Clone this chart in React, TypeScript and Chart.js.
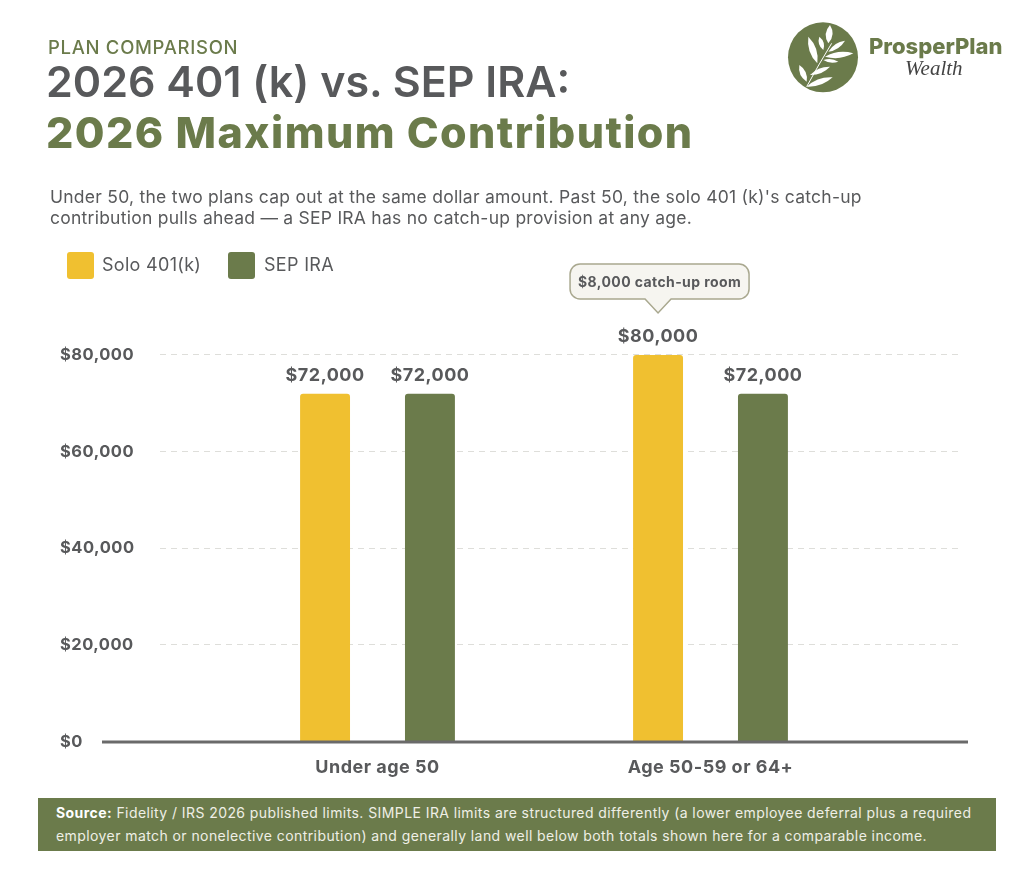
import { useEffect, useRef } from 'react';
import { Chart, registerables } from 'chart.js';

Chart.register(...registerables);

const categories = ['Under age 50', 'Age 50-59 or 64+'];
const solo401k = [72000, 80000];
const sepIra = [72000, 72000];
const yTicks = [0, 20000, 40000, 60000, 80000];
const seriesNames = ['Solo 401(k)', 'SEP IRA'];
const calloutText = '$8,000 catch-up room';

const YELLOW = '#F0C030';
const GREEN = '#6B7B4B';
const GREY = '#58595B';
const FONT = 'Inter, "Open Sans", sans-serif';

const money = (v: number) => '$' + v.toLocaleString('en-US');

// grid lines and baseline run wider than the category band, so they are drawn here
const guides = {
  id: 'guides',
  beforeDraw(chart: any) {
    chart.ctx.letterSpacing = '0.5px';
  },
  beforeDatasetsDraw(chart: any) {
    const { ctx, scales } = chart;
    ctx.save();
    ctx.strokeStyle = '#DEDEDA';
    ctx.lineWidth = 1;
    ctx.setLineDash([6, 5]);
    yTicks.filter((t) => t > 0).forEach((t) => {
      const y = Math.round(scales.y.getPixelForValue(t)) - 0.5;
      ctx.beginPath();
      ctx.moveTo(160, y);
      ctx.lineTo(963, y);
      ctx.stroke();
    });
    ctx.restore();
  },
  afterDatasetsDraw(chart: any) {
    const { ctx, scales } = chart;
    const y = scales.y.getPixelForValue(0);
    ctx.save();
    ctx.strokeStyle = '#6A6A6A';
    ctx.lineWidth = 3;
    ctx.beginPath();
    ctx.moveTo(102, y);
    ctx.lineTo(968, y);
    ctx.stroke();
    ctx.restore();
  },
};

const barLabels = {
  id: 'barLabels',
  afterDatasetsDraw(chart: any) {
    const { ctx } = chart;
    ctx.save();
    ctx.font = `700 18px ${FONT}`;
    ctx.fillStyle = GREY;
    ctx.textAlign = 'center';
    ctx.textBaseline = 'alphabetic';
    chart.data.datasets.forEach((ds: any, i: number) => {
      chart.getDatasetMeta(i).data.forEach((bar: any, j: number) => {
        ctx.fillText(money(ds.data[j]), bar.x, bar.y - 13);
      });
    });

    // callout over the taller bar
    const bar = chart.getDatasetMeta(0).data[1];
    const tipY = bar.y - 42;
    const w = 179;
    const h = 35;
    const r = 10;
    const left = bar.x - 88;
    const top = tipY - 14 - h;
    const right = left + w;
    const bottom = top + h;
    ctx.beginPath();
    ctx.moveTo(left + r, top);
    ctx.arcTo(right, top, right, bottom, r);
    ctx.arcTo(right, bottom, left, bottom, r);
    ctx.lineTo(bar.x + 13, bottom);
    ctx.lineTo(bar.x, tipY);
    ctx.lineTo(bar.x - 13, bottom);
    ctx.arcTo(left, bottom, left, top, r);
    ctx.arcTo(left, top, right, top, r);
    ctx.closePath();
    ctx.fillStyle = '#F6F5F0';
    ctx.fill();
    ctx.strokeStyle = '#A9A88F';
    ctx.lineWidth = 1.5;
    ctx.stroke();
    ctx.fillStyle = GREY;
    ctx.font = `700 14px ${FONT}`;
    ctx.letterSpacing = '0.4px';
    ctx.textBaseline = 'middle';
    ctx.fillText(calloutText, left + w / 2, top + h / 2 + 1);
    ctx.restore();
  },
};

function ContributionChart() {
  const canvasRef = useRef<HTMLCanvasElement>(null);

  useEffect(() => {
    if (!canvasRef.current) return;
    const chart = new Chart(canvasRef.current, {
      type: 'bar',
      data: {
        labels: categories,
        datasets: [
          { label: seriesNames[0], data: solo401k, backgroundColor: YELLOW, borderRadius: { topLeft: 3, topRight: 3 }, borderSkipped: 'bottom' },
          { label: seriesNames[1], data: sepIra, backgroundColor: GREEN, borderRadius: { topLeft: 3, topRight: 3 }, borderSkipped: 'bottom' },
        ],
      },
      options: {
        animation: false,
        responsive: false,
        devicePixelRatio: 1,
        layout: { padding: { top: 355, left: 60, right: 147, bottom: 31 } },
        categoryPercentage: 0.63,
        barPercentage: 0.476,
        plugins: { legend: { display: false }, tooltip: { enabled: false } },
        scales: {
          x: {
            grid: { display: false },
            border: { display: false },
            afterFit: (axis: any) => { axis.height = 100; },
            ticks: { color: GREY, padding: 7, font: { family: FONT, size: 18, weight: 700 } },
          },
          y: {
            min: 0,
            max: 80000,
            afterBuildTicks: (axis: any) => { axis.ticks = yTicks.map((value) => ({ value })); },
            afterFit: (axis: any) => { axis.width = 151; },
            grid: { display: false },
            border: { display: false },
            ticks: {
              crossAlign: 'far',
              color: GREY,
              font: { family: FONT, size: 16.5, weight: 700 },
              callback: (v: any) => money(Number(v)),
            },
          },
        },
      } as any,
      plugins: [guides, barLabels],
    });
    return () => chart.destroy();
  }, []);

  return <canvas ref={canvasRef} width={1024} height={873} style={{ position: 'absolute', left: 0, top: 0 }} />;
}

const leaves = [
  [205, 130, 210, 75, 13],
  [190, 150, 178, 110, 9],
  [172, 190, 145, 110, 13],
  [205, 155, 255, 122, 9],
  [195, 170, 280, 160, 11],
  [190, 180, 235, 185, 7],
  [150, 225, 210, 200, 9],
  [140, 245, 118, 195, 11],
  [140, 260, 218, 232, 11],
];

function leafPath([x0, y0, x1, y1, fat]: number[]) {
  const mx = (x0 + x1) / 2;
  const my = (y0 + y1) / 2;
  const len = Math.hypot(x1 - x0, y1 - y0);
  const nx = (-(y1 - y0) / len) * fat * 1.6;
  const ny = ((x1 - x0) / len) * fat * 1.6;
  return `M${x0} ${y0}Q${mx + nx} ${my + ny} ${x1} ${y1}Q${mx - nx} ${my - ny} ${x0} ${y0}Z`;
}

function Logo() {
  return (
    <svg viewBox="0 0 792 330" width={264} height={110} style={{ position: 'absolute', left: 760, top: 0 }}>
      <circle cx={189} cy={172} r={105} fill={GREEN} />
      <path d="M140 260Q175 195 215 130" stroke="#fff" strokeWidth={3} fill="none" />
      {leaves.map((l, i) => <path key={i} d={leafPath(l)} fill="#fff" />)}
    </svg>
  );
}

function Text({ x, y, size, weight = 400, color = GREY, spacing = 0, children, italic, family }: any) {
  return (
    <div style={{
      position: 'absolute', left: x, top: y, fontSize: size, fontWeight: weight, color,
      letterSpacing: spacing, whiteSpace: 'nowrap', lineHeight: 1, fontFamily: family || FONT,
      fontStyle: italic ? 'italic' : 'normal',
    }}>{children}</div>
  );
}

export default function App() {
  const swatch = (x: number, c: string) => (
    <div style={{ position: 'absolute', left: x, top: 252, width: 27, height: 27, borderRadius: 3, background: c }} />
  );
  return (
    <div style={{ position: 'absolute', left: 0, top: 0, width: 1024, height: 873, background: '#fff', overflow: 'hidden' }}>
      <ContributionChart />
      <Text x={48} y={38} size={18.5} weight={500} color={GREEN} spacing={0.7}>PLAN COMPARISON</Text>
      <Text x={46} y={60} size={43} weight={600} spacing={0}>2026 401 (k) vs. SEP IRA:</Text>
      <Text x={46} y={111} size={43} weight={800} color={GREEN} spacing={1.4}>2026 Maximum Contribution</Text>
      <Text x={50} y={188} size={17.5} color={GREY} spacing={0.25}>Under 50, the two plans cap out at the same dollar amount. Past 50, the solo 401 (k)'s catch-up</Text>
      <Text x={50} y={209} size={17.5} color={GREY} spacing={0.25}>contribution pulls ahead — a SEP IRA has no catch-up provision at any age.</Text>

      {swatch(67, YELLOW)}
      <Text x={102} y={256} size={18} spacing={0.3}>{seriesNames[0]}</Text>
      {swatch(228, GREEN)}
      <Text x={264} y={256} size={18} spacing={0.3}>{seriesNames[1]}</Text>

      <Logo />
      <Text x={869} y={35} size={22} weight={800} color={GREEN}>ProsperPlan</Text>
      <Text x={905} y={58} size={21} italic color="#444" family='"Liberation Serif", serif'>Wealth</Text>

      <div style={{ position: 'absolute', left: 38, top: 798, width: 958, height: 53, background: GREEN }} />
      <Text x={56} y={806} size={14} color="#EFEFE6" spacing={0.42}><b style={{ color: '#fff' }}>Source:</b> Fidelity / IRS 2026 published limits. SIMPLE IRA limits are structured differently (a lower employee deferral plus a required</Text>
      <Text x={56} y={829} size={14} color="#EFEFE6" spacing={0.42}>employer match or nonelective contribution) and generally land well below both totals shown here for a comparable income.</Text>
    </div>
  );
}
